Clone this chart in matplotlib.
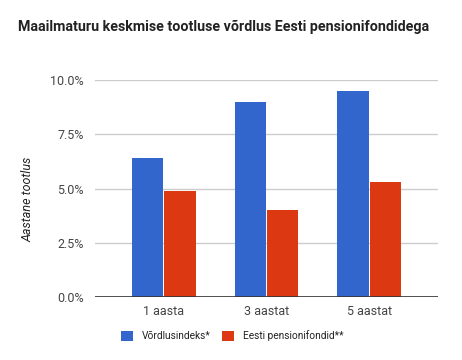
import matplotlib.pyplot as plt
import numpy as np
from matplotlib.patches import Patch

plt.rcParams['font.family'] = ['Roboto', 'DejaVu Sans']

# Andmed
perioodid = ["1 aasta", "3 aastat", "5 aastat"]
vordlusindeks = [6.4, 9.0, 9.5]
pensionifondid = [4.9, 4.0, 5.3]
seeriad = ["Võrdlusindeks*", "Eesti pensionifondid**"]
y_ticks = [0.0, 2.5, 5.0, 7.5, 10.0]

sinine = "#3366CC"
punane = "#DC3912"

fig = plt.figure(figsize=(4.62, 3.6), dpi=100)
ax = fig.add_axes([95 / 462, 63 / 360, 343 / 462, 217 / 360])

x = np.arange(len(perioodid))
laius = 0.305
ax.bar(x - laius / 2 - 0.005, vordlusindeks, laius, color=sinine, zorder=3)
ax.bar(x + laius / 2 + 0.005, pensionifondid, laius, color=punane, zorder=3)

ax.set_xlim(-0.67, 2.67)
ax.set_ylim(0, 10)
ax.set_yticks(y_ticks)
ax.set_yticklabels([f"{v:.1f}%" for v in y_ticks])
ax.set_xticks(x)
ax.set_xticklabels(perioodid)

# Stiil
for s in ax.spines.values():
    s.set_visible(False)
ax.grid(axis='y', color='#cccccc', linewidth=1, zorder=0)
ax.axhline(0, color='#333333', linewidth=1.2, zorder=4)
ax.tick_params(axis='both', length=0, labelsize=9, colors='#444444')
ax.tick_params(axis='y', pad=8)
ax.tick_params(axis='x', pad=6)

ax.set_ylabel("Aastane tootlus", fontsize=9, style='italic', color='#222222')
ax.yaxis.set_label_coords(-0.175, 0.45)

fig.text(18 / 462, 1 - 27 / 360, "Maailmaturu keskmise tootluse võrdlus Eesti pensionifondidega",
         fontsize=10.3, fontweight='bold', color='#222222', va='center', ha='left')

kastid = [Patch(facecolor=sinine), Patch(facecolor=punane)]
fig.legend(kastid, seeriad, loc='center left', bbox_to_anchor=(112 / 462, 1 - 336 / 360),
           ncol=2, frameon=False, fontsize=7.3, handlelength=1.2, handleheight=1.2,
           columnspacing=1.1, handletextpad=0.85, labelcolor='#222222')

plt.savefig("out.png", dpi=100)
